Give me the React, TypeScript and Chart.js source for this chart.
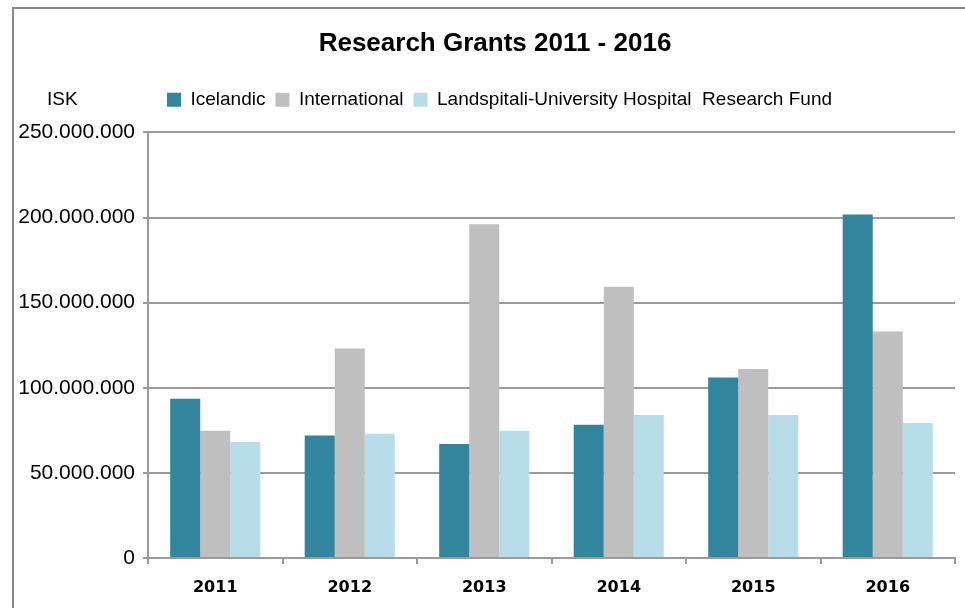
import React, { useEffect, useRef } from "react";
import { Chart, registerables } from "chart.js";

Chart.register(...registerables);

const categories = ["2011", "2012", "2013", "2014", "2015", "2016"];
const icelandic = [93500000, 72000000, 67000000, 78200000, 106000000, 201800000];
const international = [74700000, 123000000, 196000000, 159400000, 111000000, 133000000];
const landspitali = [68200000, 73000000, 74700000, 84000000, 84000000, 79300000];
const seriesNames = ["Icelandic", "International", "Landspitali-University Hospital  Research Fund"];
const seriesColors = ["#31859C", "#BFBFBF", "#B7DEE8"];
const yMax = 250000000;
const yStep = 50000000;

const fmt = (v: number) => String(Math.round(v)).replace(/\B(?=(\d{3})+(?!\d))/g, ".");

const GRID = "#9a9a9a";
const SANS = '"Liberation Sans", Arial, sans-serif';
const LEGEND_SIZE = 19;
const LEGEND_PAD = 10;

const iskPlugin = {
  id: "iskLabel",
  afterDraw(chart: any) {
    const ctx = chart.ctx;
    const lg = chart.legend;
    if (!lg) return;
    const y = lg.top + LEGEND_PAD + LEGEND_SIZE / 2;
    ctx.save();
    ctx.font = `${LEGEND_SIZE}px ${SANS}`;
    ctx.fillStyle = "#000";
    ctx.textBaseline = "middle";
    ctx.textAlign = "left";
    ctx.fillText("ISK", chart.chartArea.left - 101, y);
    ctx.restore();
  },
};

const shiftPlugin = {
  id: "shiftTopBoxes",
  afterLayout(chart: any) {
    const t = chart.titleBlock;
    if (t) {
      t.left += 9.5;
      t.right += 9.5;
    }
    const l = chart.legend;
    if (l) {
      l.left += 14;
      l.right += 14;
    }
  },
};

export default function App() {
  const ref = useRef<HTMLCanvasElement | null>(null);
  useEffect(() => {
    if (!ref.current) return;
    const chart = new Chart(ref.current, {
      type: "bar",
      data: {
        labels: categories,
        datasets: [
          { label: seriesNames[0], data: icelandic, backgroundColor: seriesColors[0] },
          { label: seriesNames[1], data: international, backgroundColor: seriesColors[1] },
          { label: seriesNames[2], data: landspitali, backgroundColor: seriesColors[2] },
        ],
      },
      options: {
        responsive: false,
        animation: false,
        devicePixelRatio: 1,
        layout: { padding: { left: 16, right: 10, top: 0, bottom: 0 } },
        datasets: { bar: { categoryPercentage: 0.67, barPercentage: 1 } },
        plugins: {
          title: {
            display: true,
            text: "Research Grants 2011 - 2016",
            color: "#000",
            font: { family: SANS, size: 26, weight: "bold" },
            padding: { top: 28, bottom: 21 },
          },
          subtitle: {
            display: true,
            text: "",
            weight: 500,
            font: { size: 11 },
            padding: 0,
          } as any,
          legend: {
            display: true,
            position: "top",
            labels: {
              boxWidth: 14,
              boxHeight: 14,
              padding: LEGEND_PAD,
              color: "#000",
              font: { family: SANS, size: LEGEND_SIZE },
            },
          },
          tooltip: { enabled: false },
        },
        scales: {
          x: {
            afterFit: (scale: any) => {
              scale.height = 50;
            },
            grid: { display: true, drawOnChartArea: false, drawTicks: true, tickLength: 6, color: GRID, lineWidth: 2, offset: true },
            border: { display: true, color: GRID, width: 2 },
            ticks: {
              color: "#000",
              padding: 14,
              font: { family: '"DejaVu Sans", sans-serif', size: 16, weight: "bold" },
            },
          },
          y: {
            min: 0,
            max: yMax,
            afterFit: (scale: any) => {
              scale.width = 132;
            },
            grid: { display: true, drawTicks: true, tickLength: 5, color: GRID, lineWidth: 2 },
            border: { display: true, color: GRID, width: 2 },
            ticks: {
              stepSize: yStep,
              color: "#000",
              padding: 8,
              font: { family: SANS, size: 21 },
              callback: (v: any) => fmt(Number(v)),
            },
          },
        },
      },
      plugins: [shiftPlugin, iskPlugin],
    });
    return () => chart.destroy();
  }, []);

  return (
    <div style={{ position: "absolute", left: 0, top: 0, width: 965, height: 608, overflow: "hidden", background: "#fff" }}>
      <div
        style={{
          position: "absolute",
          left: 12,
          top: 7,
          width: 1000,
          height: 700,
          border: "2px solid #8a8a8a",
          boxSizing: "border-box",
        }}
      />
      <canvas ref={ref} width={965} height={608} style={{ position: "absolute", left: 0, top: 0, width: 965, height: 608 }} />
    </div>
  );
}
